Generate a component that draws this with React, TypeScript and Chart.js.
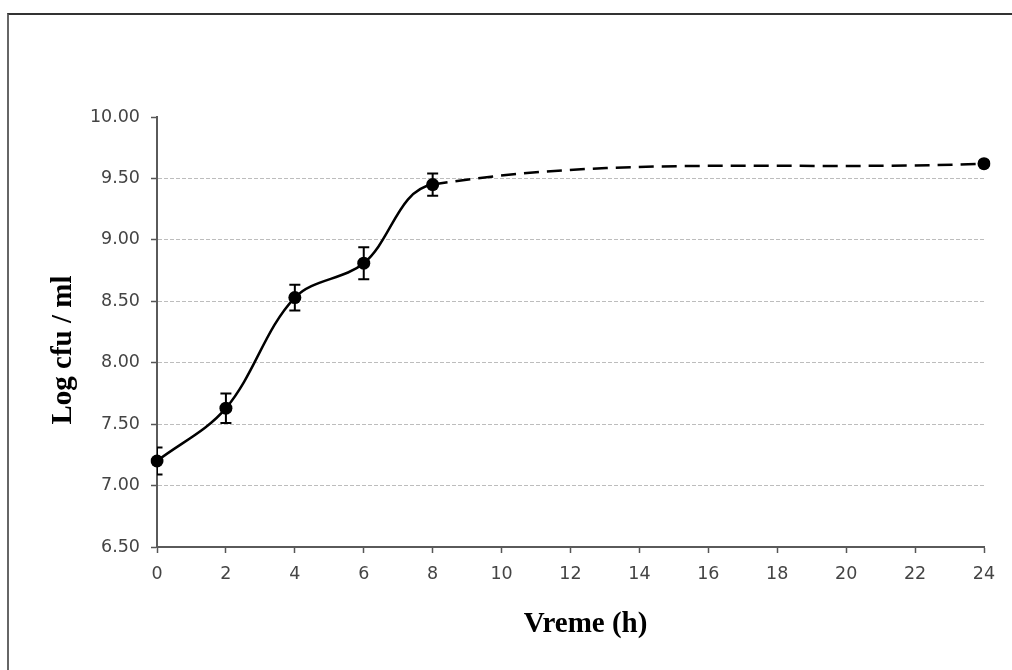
import React, { useEffect, useRef } from 'react';
import { Chart, registerables } from 'chart.js';

Chart.register(...registerables);

// Category labels (hours)
const hours = ['0', '2', '4', '6', '8', '10', '12', '14', '16', '18', '20', '22', '24'];
// Mean log cfu / ml (null = not measured)
const logCfu = [7.2, 7.63, 8.53, 8.81, 9.45, null, null, null, null, null, null, null, 9.62];
// Error bar half-widths
const errors = [0.11, 0.12, 0.105, 0.13, 0.09, null, null, null, null, null, null, null, null];
// Y tick values
const yTickValues = [6.5, 7.0, 7.5, 8.0, 8.5, 9.0, 9.5, 10.0];
// Axis titles
const xTitle = 'Vreme (h)';
const yTitle = 'Log cfu / ml';

const errorBarPlugin = {
  id: 'errorBars',
  afterDatasetsDraw(chart: any) {
    const { ctx, chartArea, scales } = chart;
    const xs = scales.x;
    const ys = scales.y;
    ctx.save();
    ctx.beginPath();
    ctx.rect(chartArea.left, 0, chart.width - chartArea.left, chart.height);
    ctx.clip();
    ctx.strokeStyle = '#000';
    ctx.lineWidth = 2;
    const cap = 5.5;
    logCfu.forEach((v, i) => {
      const e = errors[i];
      if (v == null || e == null) return;
      const x = xs.getPixelForValue(i);
      const yT = ys.getPixelForValue(v + e);
      const yB = ys.getPixelForValue(v - e);
      ctx.beginPath();
      ctx.moveTo(x, yT);
      ctx.lineTo(x, yB);
      ctx.moveTo(x - cap, yT);
      ctx.lineTo(x + cap, yT);
      ctx.moveTo(x - cap, yB);
      ctx.lineTo(x + cap, yB);
      ctx.stroke();
    });
    ctx.restore();
  },
};

const axisTitlePlugin = {
  id: 'axisTitles',
  afterDraw(chart: any) {
    const { ctx, chartArea } = chart;
    ctx.save();
    ctx.fillStyle = '#000';
    ctx.font = 'bold 29px "Liberation Serif", "Times New Roman", serif';
    ctx.textAlign = 'center';
    ctx.textBaseline = 'alphabetic';
    // x title
    const cx = (chartArea.left + chartArea.right) / 2 + 15;
    ctx.fillText(xTitle, cx, chartArea.bottom + 85);
    // y title
    const cy = (chartArea.top + chartArea.bottom) / 2 + 18;
    ctx.translate(71, cy);
    ctx.rotate(-Math.PI / 2);
    ctx.fillText(yTitle, 0, 0);
    ctx.restore();
  },
};

export default function App() {
  const ref = useRef<HTMLCanvasElement | null>(null);

  useEffect(() => {
    if (!ref.current) return;
    const tickFont = { family: 'DejaVu Sans', size: 17.5 };
    const chart = new Chart(ref.current, {
      type: 'line',
      data: {
        labels: hours,
        datasets: [
          {
            label: yTitle,
            data: logCfu,
            borderColor: '#000',
            backgroundColor: '#000',
            borderWidth: 2.5,
            tension: 0.35,
            spanGaps: true,
            pointRadius: 6.5,
            pointHoverRadius: 6.5,
            pointBackgroundColor: '#000',
            pointBorderWidth: 0,
            segment: {
              borderDash: (c: any) => (c.p0.skip || c.p1.skip ? [15, 8] : undefined),
            },
          },
        ],
      },
      options: {
        responsive: false,
        animation: false,
        devicePixelRatio: 1,
        layout: { padding: { top: 117, right: 28, left: 0, bottom: 0 } },
        plugins: {
          legend: { display: false },
          tooltip: { enabled: false },
        },
        scales: {
          x: {
            type: 'category',
            offset: false,
            afterFit(scale: any) {
              scale.height = 123;
            },
            grid: {
              drawOnChartArea: false,
              drawTicks: true,
              tickLength: 6,
              tickColor: '#555',
              tickWidth: 1.5,
            },
            border: { display: true, color: '#5a5a5a', width: 2 },
            ticks: {
              font: tickFont,
              color: '#444',
              padding: 11,
              maxRotation: 0,
              autoSkip: false,
            },
          },
          y: {
            min: 6.5,
            max: 10,
            afterFit(scale: any) {
              scale.width = 157;
            },
            afterBuildTicks(scale: any) {
              scale.ticks = yTickValues.map((v) => ({ value: v }));
            },
            grid: {
              color: (c: any) =>
                c.tick && (c.tick.value === 10 || c.tick.value === 6.5) ? 'rgba(0,0,0,0)' : '#bdbdbd',
              lineWidth: 1,
              drawTicks: true,
              tickLength: 6,
              tickColor: '#555',
              tickWidth: 1.5,
              tickBorderDash: [],
            },
            border: { display: true, color: '#5a5a5a', width: 2, dash: [4, 2] },
            ticks: {
              font: tickFont,
              color: '#444',
              padding: 11,
              callback: (v: any) => Number(v).toFixed(2),
            },
          },
        },
      },
      plugins: [errorBarPlugin, axisTitlePlugin],
    });
    return () => chart.destroy();
  }, []);

  return (
    <div>
      <div
        style={{
          position: 'absolute',
          left: 7,
          top: 13,
          width: 1003,
          height: 655,
          borderTop: '2px solid #333',
          borderLeft: '2px solid #666',
          boxSizing: 'content-box',
        }}
      />
      <canvas
        ref={ref}
        width={1012}
        height={670}
        style={{ position: 'absolute', left: 0, top: 0, width: 1012, height: 670 }}
      />
    </div>
  );
}
